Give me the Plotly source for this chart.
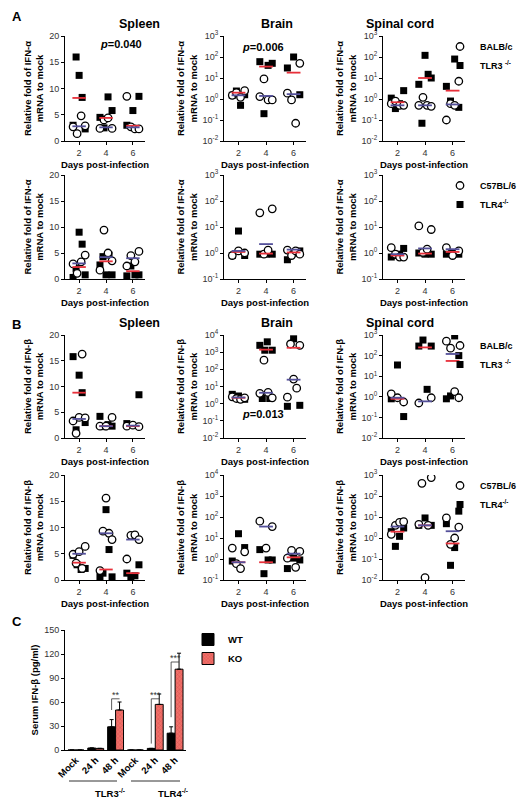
import numpy as np
import plotly.graph_objects as go

W, H = 529, 800
FONT = "Liberation Sans"
RED = "#e8303a"
BLUE = "#54509a"
days = [2, 4, 6]

# ---- panel A, row 1 (BALB/c vs TLR3-/-), IFN-alpha ----
a1_spleen_wt = [[2.7, 1.4, 4.8, 2.9], [2.4, 4.0, 4.4, 2.4], [8.5, 2.7, 2.3, 2.3]]
a1_spleen_ko = [[3.0, 16.0, 12.5, 8.3, 2.3], [4.5, 2.5, 8.4, 5.8], [3.0, 5.8, 8.5]]
a1_spleen_med = [[2.8, 2.6, 2.6], [8.2, 4.4, 2.9]]
a1_brain_wt = [[1.5, 2.0, 1.2, 2.5], [1.3, 9.0, 0.9, 0.9], [1.9, 0.9, 0.07, 50]]
a1_brain_ko = [[1.5, 2.4, 0.5, 1.6], [60, 0.2, 40, 50], [30, 100, 1.6]]
a1_brain_med = [[1.5, 1.4, 1.7], [2.0, 35, 18]]
a1_spinal_wt = [[0.6, 0.8, 0.5, 0.5], [0.5, 1.2, 0.5, 0.45], [0.1, 0.6, 0.5, 7.0]]
a1_spinal_ko = [[1.1, 0.35, 0.6, 2.5], [5.0, 0.07, 120, 15, 10], [4.0, 0.8, 80, 0.4]]
a1_spinal_med = [[0.5, 0.5, 0.55], [0.7, 10, 2.5]]

# ---- panel A, row 2 (C57BL/6 vs TLR4-/-), IFN-alpha ----
a2_spleen_wt = [[2.9, 1.1, 3.3, 4.6], [1.7, 9.4, 5.0, 3.5], [2.5, 4.5, 3.3, 5.3]]
a2_spleen_ko = [[0.3, 2.0, 9.0, 6.7, 0.8], [2.7, 4.3, 0.8, 4.6, 0.8], [0.6, 2.5, 0.8, 0.8]]
a2_spleen_med = [[3.0, 4.2, 4.0], [2.3, 3.4, 1.5]]
a2_brain_wt = [[0.8, 1.2, 1.0], [35, 0.9, 1.3, 50], [1.3, 0.8, 1.2, 0.9]]
a2_brain_ko = [[0.8, 7.0, 0.8], [0.9, 0.9, 0.9], [0.55, 1.0, 1.2]]
a2_brain_med = [[1.2, 2.2, 1.35], [1.1, 0.95, 1.05]]
a2_spinal_wt = [[1.6, 0.9, 0.7, 0.7], [11, 1.05, 1.4, 8.0], [1.6, 0.8, 1.2]]
a2_spinal_ko = [[0.7, 0.8, 0.9, 1.5], [1.0, 0.9, 0.9], [0.9, 1.05, 0.9]]
a2_spinal_med = [[0.9, 1.5, 1.4], [0.8, 0.95, 1.1]]

# ---- panel B, row 1 (BALB/c vs TLR3-/-), IFN-beta ----
b1_spleen_wt = [[3.3, 0.9, 4.0, 16.3, 3.9], [2.3, 2.3, 4.0], [2.3, 2.5, 2.2]]
b1_spleen_ko = [[15.8, 1.6, 12.2, 8.8, 3.0], [4.2, 2.2, 2.6, 2.3], [2.8, 8.4]]
b1_spleen_med = [[3.7, 2.3, 2.4], [8.8, 2.3, 2.3]]
b1_brain_wt = [[2.5, 2.0, 1.8, 2.2], [4.0, 340, 4.5, 2.2], [2.4, 3000, 27, 8.0, 2500]]
b1_brain_ko = [[3.5, 2.8, 1.8], [2500, 2.0, 1300, 4000, 2.0, 1300], [0.7, 6000, 0.8]]
b1_brain_med = [[2.3, 4.3, 25], [2.2, 1400, 1800]]
b1_spinal_wt = [[1.4, 0.9, 0.56], [0.5, 0.9], [500, 230, 1.8, 0.9]]
b1_spinal_ko = [[0.8, 35, 0.11], [290, 570, 2.3, 290], [0.8, 1.1, 900, 100]]
b1_spinal_med = [[0.9, 0.6, 120], [0.8, 250, 55]]

# ---- panel B, row 2 (C57BL/6 vs TLR4-/-), IFN-beta ----
b2_spleen_wt = [[4.9, 3.2, 5.4, 2.2, 6.4], [1.8, 9.3, 15.6, 8.9, 7.7], [4.0, 8.5, 8.6, 7.7]]
b2_spleen_ko = [[4.7, 2.9, 2.0, 2.2], [0.6, 1.3, 13.4, 5.8, 0.6], [1.3, 0.6, 0.8, 2.9]]
b2_spleen_med = [[5.0, 8.9, 7.7], [3.3, 2.0, 1.3]]
b2_brain_wt = [[3.3, 0.6, 0.35, 2.2], [63, 3.3, 35], [1.1, 2.6, 0.4, 2.3]]
b2_brain_ko = [[0.8, 16, 3.5], [2.8, 0.2, 0.9, 0.9], [0.35, 1.1, 0.9]]
b2_brain_med = [[0.7, 35, 1.8], [0.7, 0.7, 1.2]]
b2_spinal_wt = [[1.5, 4.0, 5.6, 6.0], [4.5, 400, 0.013, 4.0, 750], [9.0, 0.5, 1.0, 3.3]]
b2_spinal_ko = [[2.0, 0.4, 1.2, 3.0], [4.0, 9.0, 4.0], [4.8, 0.05, 0.35, 19]]
b2_spinal_med = [[3.5, 4.0, 2.1], [2.0, 4.0, 0.55]]

# ---- panel C, serum IFN-beta ----
c_labels = ["Mock", "24 h", "48 h", "Mock", "24 h", "48 h"]
c_wt = [0, 2.5, 29, 0, 2, 21]
c_wt_err = [0, 0, 9, 0, 0, 8]
c_ko = [0, 2, 50, 0, 57, 101]
c_ko_err = [0, 0, 10, 0, 13, 20]

panels = [
    (a1_spleen_wt, a1_spleen_ko, a1_spleen_med, "lin", "α", "Spleen"),
    (a1_brain_wt, a1_brain_ko, a1_brain_med, (-2, 3), "α", "Brain"),
    (a1_spinal_wt, a1_spinal_ko, a1_spinal_med, (-2, 3), "α", "Spinal cord"),
    (a2_spleen_wt, a2_spleen_ko, a2_spleen_med, "lin", "α", None),
    (a2_brain_wt, a2_brain_ko, a2_brain_med, (-1, 3), "α", None),
    (a2_spinal_wt, a2_spinal_ko, a2_spinal_med, (-1, 3), "α", None),
    (b1_spleen_wt, b1_spleen_ko, b1_spleen_med, "lin", "β", "Spleen"),
    (b1_brain_wt, b1_brain_ko, b1_brain_med, (-2, 4), "β", "Brain"),
    (b1_spinal_wt, b1_spinal_ko, b1_spinal_med, (-2, 3), "β", "Spinal cord"),
    (b2_spleen_wt, b2_spleen_ko, b2_spleen_med, "lin", "β", None),
    (b2_brain_wt, b2_brain_ko, b2_brain_med, (-1, 4), "β", None),
    (b2_spinal_wt, b2_spinal_ko, b2_spinal_med, (-2, 3), "β", None),
]

cols_px = [(57, 137), (216, 298), (375, 457)]
rows_px = [(28, 133), (167, 271), (327, 430), (467, 572)]
legend_names = [("<b>BALB/c</b>", "<b>TLR3 <sup>-/-</sup></b>"), ("<b>C57BL/6</b>", "<b>TLR4<sup>-/-</sup></b>"),
                ("<b>BALB/c</b>", "<b>TLR3 <sup>-/-</sup></b>"), ("<b>C57BL/6</b>", "<b>TLR4<sup>-/-</sup></b>")]


def xd(a, b):
    return [a / W, b / W]


def yd(top, bot):
    return [1 - bot / H, 1 - top / H]


fig = go.Figure()
layout = dict(width=W, height=H, margin=dict(l=0, r=0, t=0, b=0, autoexpand=False),
              plot_bgcolor="white", paper_bgcolor="white",
              font=dict(family=FONT, color="black", size=9))
annotations = []
shapes = []

axis_common = dict(showgrid=False, zeroline=False, showline=True, linecolor="black",
                   linewidth=1, ticks="outside", ticklen=3, tickcolor="black",
                   automargin=False, tickfont=dict(size=9, color="#333"))

for k, (wt, ko, med, scale, greek, title) in enumerate(panels):
    n = k + 1
    r, c = divmod(k, 3)
    xa = "x" if n == 1 else f"x{n}"
    ya = "y" if n == 1 else f"y{n}"
    log = scale != "lin"
    leg = "legend" if r == 0 else f"legend{r + 1}"
    show = c == 2
    for di, d in enumerate(days):
        for vals, sym, fill, name in [
            (ko[di], "square", "black", legend_names[r][1]),
            (wt[di], "circle", "white", legend_names[r][0]),
        ]:
            m = len(vals)
            xs = d + np.linspace(-0.45, 0.45, m) if m > 1 else [d]
            fig.add_trace(go.Scatter(
                x=xs, y=vals, mode="markers", xaxis=xa, yaxis=ya,
                marker=dict(symbol=sym, size=7.5 if sym == "circle" else 7, color=fill,
                            line=dict(color="black", width=1.3 if sym == "circle" else 0)),
                name=name, legend=leg, showlegend=(show and di == 0)))
        for mval, lcol in [(med[1][di], RED), (med[0][di], BLUE)]:
            fig.add_trace(go.Scatter(x=[d - 0.5, d + 0.5], y=[mval, mval], mode="lines",
                                     xaxis=xa, yaxis=ya, line=dict(color=lcol, width=1.8),
                                     showlegend=False, hoverinfo="skip"))
    xkey = "xaxis" if n == 1 else f"xaxis{n}"
    ykey = "yaxis" if n == 1 else f"yaxis{n}"
    layout[xkey] = dict(axis_common, domain=xd(*cols_px[c]), anchor=ya, range=[0.95, 6.9],
                        tickvals=days,
                        title=dict(text="<b>Days post-infection</b>", font=dict(size=9.5), standoff=4))
    ytitle = dict(text=f"<b>Relative fold of IFN-{greek}<br>mRNA to mock</b>",
                  font=dict(size=9.5), standoff=3)
    if log:
        lo, hi = scale
        tv = [10.0 ** e for e in range(lo, hi + 1)]
        tt = [f"10<sup>{e}</sup>" for e in range(lo, hi + 1)]
        layout[ykey] = dict(axis_common, domain=yd(*rows_px[r]), anchor=xa, type="log",
                            range=[lo, hi], tickvals=tv, ticktext=tt, title=ytitle)
    else:
        layout[ykey] = dict(axis_common, domain=yd(*rows_px[r]), anchor=xa, range=[0, 20],
                            tickvals=[0, 5, 10, 15, 20], title=ytitle)
    if title:
        annotations.append(dict(text=f"<b>{title}</b>", xref="paper", yref="paper",
                                x=(cols_px[c][0] + cols_px[c][1]) / 2 / W + 12 / W,
                                y=1 - (rows_px[r][0] - 12) / H, showarrow=False,
                                font=dict(size=12.5), yanchor="middle"))

# legends for the scatter rows
for r in range(4):
    key = "legend" if r == 0 else f"legend{r + 1}"
    layout[key] = dict(x=432 / W, y=1 - (rows_px[r][0] - 4) / H, xanchor="left", yanchor="top",
                       bgcolor="rgba(0,0,0,0)", font=dict(size=9, family=FONT),
                       itemwidth=30, tracegroupgap=0, traceorder="reversed")

# ---- panel C bars ----
cx = list(range(len(c_labels)))
fig.add_trace(go.Bar(x=cx, y=c_wt, name="<b>WT</b>", xaxis="x13", yaxis="y13",
                     marker=dict(color="black", line=dict(color="black", width=1)),
                     error_y=dict(type="data", array=c_wt_err, arrayminus=[0] * 6, symmetric=False,
                                  color="black", thickness=1, width=2),
                     legend="legend5"))
fig.add_trace(go.Bar(x=cx, y=c_ko, name="<b>KO</b>", xaxis="x13", yaxis="y13",
                     marker=dict(color="#f07068", line=dict(color="black", width=1),
                                 pattern=dict(shape="x", fgcolor="#c0303a", size=3, solidity=0.3)),
                     error_y=dict(type="data", array=c_ko_err, arrayminus=[0] * 6, symmetric=False,
                                  color="black", thickness=1, width=2),
                     legend="legend5"))
layout["barmode"] = "group"
layout["bargap"] = 0.2
layout["bargroupgap"] = 0
layout["xaxis13"] = dict(axis_common, domain=xd(57, 178), anchor="y13", range=[-0.55, 5.55],
                         tickvals=cx, ticktext=[f"<b>{t}</b>" for t in c_labels], tickangle=-45,
                         ticks="", tickfont=dict(size=9.5, color="black"))
layout["yaxis13"] = dict(axis_common, domain=yd(622, 742), anchor="x13", range=[0, 150],
                         tickvals=[0, 30, 60, 90, 120, 150],
                         title=dict(text="<b>Serum IFN-β (pg/ml)</b>", font=dict(size=9.5), standoff=3))
layout["legend5"] = dict(x=180 / W, y=1 - 617 / H, xanchor="left", yanchor="top",
                         bgcolor="rgba(0,0,0,0)", font=dict(size=9.5), itemwidth=30)

# significance brackets
for i, top, lab in [(2, 64, "**"), (4, 64, "***"), (5, 110, "***")]:
    wx, kx = i - 0.2, i + 0.2
    base = 8 if i == 4 else c_wt[i] + c_wt_err[i] + 12
    shapes.append(dict(type="path", xref="x13", yref="y13",
                       path=f"M {wx} {base} L {wx} {top} L {kx} {top}",
                       line=dict(color="#333", width=0.8)))
    annotations.append(dict(text=lab, x=i, y=top, xref="x13", yref="y13", showarrow=False,
                            yanchor="bottom", font=dict(size=9, color="#333"), yshift=-3))

# group lines below panel C
for (a, b), lab in [((61, 109), "TLR3<sup>-/-</sup>"), ((123, 172), "TLR4<sup>-/-</sup>")]:
    shapes.append(dict(type="line", xref="paper", yref="paper", x0=a / W, x1=b / W,
                       y0=1 - 773 / H, y1=1 - 773 / H, line=dict(color="#333", width=1)))
    annotations.append(dict(text=f"<b>{lab}</b>", xref="paper", yref="paper",
                            x=(a + b) / 2 / W, y=1 - 777 / H, showarrow=False,
                            font=dict(size=9.5), yanchor="top"))

# p-values and panel letters
for txt, px, py in [("<b><i>p</i>=0.040</b>", 90, 36), ("<b><i>p</i>=0.006</b>", 255, 39),
                    ("<b><i>p</i>=0.013</b>", 255, 406)]:
    annotations.append(dict(text=txt, xref="paper", yref="paper", x=px / W, y=1 - py / H,
                            showarrow=False, font=dict(size=11), yanchor="middle"))
for txt, py in [("A", 8), ("B", 316), ("C", 613)]:
    annotations.append(dict(text=f"<b>{txt}</b>", xref="paper", yref="paper", x=2 / W,
                            y=1 - py / H, showarrow=False, font=dict(size=13),
                            xanchor="left", yanchor="middle"))

layout["annotations"] = annotations
layout["shapes"] = shapes
fig.update_layout(**layout)
fig.write_html("out.html")
